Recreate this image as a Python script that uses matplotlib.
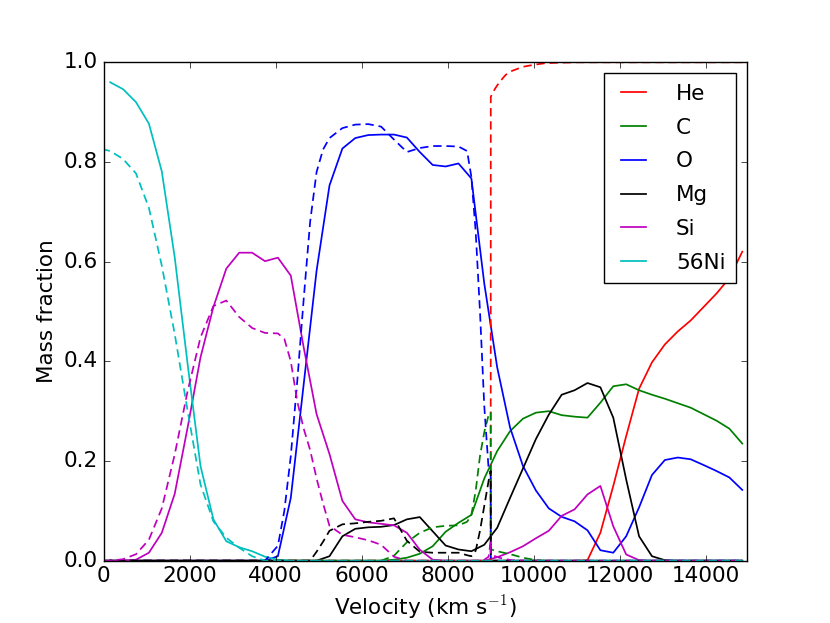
import matplotlib
matplotlib.use("Agg")
import matplotlib.pyplot as plt

plt.style.use('classic')
plt.rcParams['font.family'] = ['DejaVu Sans']
plt.rcParams['font.size'] = 15.5

# ---- solid model (velocity grid, km/s) ----
v_solid = [150, 450, 750, 1050, 1350, 1650, 1950, 2250, 2550, 2850,
           3150, 3450, 3750, 4050, 4350, 4650, 4950, 5250, 5550, 5850,
           6150, 6450, 6750, 7050, 7350, 7650, 7950, 8250, 8550, 8850,
           9150, 9450, 9750, 10050, 10350, 10650, 10950, 11250, 11550, 11850,
           12150, 12450, 12750, 13050, 13350, 13650, 13950, 14250, 14550, 14850]

he_solid = [0, 0, 0, 0, 0, 0, 0, 0, 0, 0,
            0, 0, 0, 0, 0, 0, 0, 0, 0, 0,
            0, 0, 0, 0, 0, 0, 0, 0, 0, 0,
            0, 0, 0, 0, 0, 0, 0, 0.001, 0.056, 0.150,
            0.250, 0.345, 0.398, 0.434, 0.460, 0.482, 0.509, 0.536, 0.567, 0.620]
c_solid = [0, 0, 0, 0, 0, 0, 0, 0, 0, 0,
           0, 0, 0, 0, 0, 0, 0, 0, 0, 0,
           0, 0, 0.002, 0.006, 0.014, 0.029, 0.058, 0.076, 0.092, 0.165,
           0.220, 0.260, 0.285, 0.297, 0.300, 0.292, 0.289, 0.287, 0.317, 0.350,
           0.354, 0.342, 0.333, 0.325, 0.316, 0.307, 0.294, 0.281, 0.265, 0.235]
o_solid = [0, 0, 0, 0, 0, 0, 0, 0, 0, 0,
           0, 0, 0.0, 0.009, 0.126, 0.354, 0.582, 0.753, 0.827, 0.848,
           0.854, 0.855, 0.855, 0.849, 0.820, 0.794, 0.791, 0.797, 0.767, 0.556,
           0.388, 0.267, 0.190, 0.141, 0.105, 0.088, 0.079, 0.061, 0.021, 0.016,
           0.049, 0.107, 0.172, 0.202, 0.207, 0.2035, 0.192, 0.180, 0.167, 0.142]
mg_solid = [0, 0, 0, 0, 0, 0, 0, 0, 0, 0,
            0, 0, 0, 0, 0, 0, 0, 0.009, 0.049, 0.064,
            0.067, 0.068, 0.0715, 0.083, 0.0875, 0.059, 0.0305, 0.0225, 0.019, 0.032,
            0.066, 0.126, 0.185, 0.244, 0.293, 0.333, 0.342, 0.3565, 0.348, 0.287,
            0.163, 0.049, 0.009, 0.001, 0, 0, 0, 0, 0, 0]
si_solid = [0.0, 0.0, 0.002, 0.016, 0.056, 0.134, 0.267, 0.408, 0.509, 0.586,
            0.618, 0.618, 0.601, 0.608, 0.572, 0.428, 0.294, 0.214, 0.120, 0.083,
            0.077, 0.074, 0.071, 0.056, 0.022, 0.002, 0, 0, 0, 0,
            0.007, 0.017, 0.029, 0.045, 0.060, 0.090, 0.103, 0.133, 0.150, 0.069,
            0.0125, 0.001, 0, 0, 0, 0, 0, 0, 0, 0]
ni_solid = [0.960, 0.946, 0.920, 0.877, 0.781, 0.609, 0.395, 0.190, 0.083, 0.039,
            0.027, 0.019, 0.008, 0.002, 0, 0, 0, 0, 0, 0,
            0, 0, 0, 0, 0, 0, 0, 0, 0, 0,
            0, 0, 0, 0, 0, 0, 0, 0, 0, 0,
            0, 0, 0, 0, 0, 0, 0, 0, 0, 0]

# ---- dashed model (velocity grid, km/s) ----
v_dashed = [0, 1, 150, 450, 750, 1050, 1350, 1650, 1950, 2250,
            2550, 2850, 3150, 3450, 3750, 4050, 4200, 4350, 4500, 4650,
            4800, 4950, 5100, 5250, 5550, 5850, 6150, 6450, 6750, 7050,
            7350, 7650, 7950, 8250, 8450, 8550, 8650, 8750, 8850, 8950,
            8999, 9001, 9100, 9200, 9350, 9500, 9750, 10000, 10250, 10500,
            11000, 12000, 13000, 14000, 14850]

he_dashed = [0, 0, 0, 0, 0, 0, 0, 0, 0, 0,
             0, 0, 0, 0, 0, 0, 0, 0, 0, 0,
             0, 0, 0, 0, 0, 0, 0, 0, 0, 0,
             0, 0, 0, 0, 0, 0, 0, 0, 0, 0,
             0, 0.931, 0.947, 0.960, 0.975, 0.983, 0.991, 0.995, 0.998, 0.999,
             1.0, 1.0, 1.0, 1.0, 1.0]
c_dashed = [0, 0, 0, 0, 0, 0, 0, 0, 0, 0,
            0, 0, 0, 0, 0, 0, 0, 0, 0, 0,
            0, 0, 0, 0, 0, 0, 0, 0, 0.010, 0.037,
            0.056, 0.067, 0.070, 0.071, 0.078, 0.092, 0.140, 0.210, 0.258, 0.292,
            0.298, 0.023, 0.020, 0.018, 0.015, 0.012, 0.006, 0.002, 0, 0,
            0, 0, 0, 0, 0]
o_dashed = [0, 0, 0, 0, 0, 0, 0, 0, 0, 0,
            0, 0, 0, 0, 0, 0.030, 0.100, 0.210, 0.360, 0.525,
            0.680, 0.780, 0.825, 0.848, 0.868, 0.875, 0.876, 0.871, 0.845, 0.820,
            0.828, 0.832, 0.832, 0.831, 0.822, 0.770, 0.660, 0.500, 0.310, 0.185,
            0.177, 0, 0, 0, 0, 0, 0, 0, 0, 0,
            0, 0, 0, 0, 0]
mg_dashed = [0, 0, 0, 0, 0, 0, 0, 0, 0, 0,
             0, 0, 0, 0, 0, 0, 0, 0, 0, 0,
             0, 0.018, 0.038, 0.060, 0.073, 0.075, 0.078, 0.080, 0.085, 0.040,
             0.018, 0.016, 0.016, 0.016, 0.011, 0.009, 0.020, 0.060, 0.110, 0.160,
             0.180, 0, 0, 0, 0, 0, 0, 0, 0, 0,
             0, 0, 0, 0, 0]
si_dashed = [0, 0, 0.0, 0.003, 0.013, 0.042, 0.105, 0.213, 0.340, 0.448,
             0.511, 0.522, 0.489, 0.467, 0.457, 0.456, 0.445, 0.400, 0.320, 0.265,
             0.222, 0.165, 0.115, 0.070, 0.052, 0.047, 0.041, 0.032, 0.008, 0.0,
             0, 0, 0, 0, 0, 0, 0, 0, 0.002, 0.008,
             0.040, 0.012, 0.009, 0.006, 0.003, 0.001, 0, 0, 0, 0,
             0, 0, 0, 0, 0]
ni_dashed = [0.0, 0.825, 0.822, 0.806, 0.777, 0.708, 0.592, 0.455, 0.301, 0.153,
             0.079, 0.046, 0.026, 0.009, 0.0, 0, 0, 0, 0, 0,
             0, 0, 0, 0, 0, 0, 0, 0, 0, 0,
             0, 0, 0, 0, 0, 0, 0, 0, 0, 0,
             0, 0, 0, 0, 0, 0, 0, 0, 0, 0,
             0, 0, 0, 0, 0]

labels = ['He', 'C', 'O', 'Mg', 'Si', '56Ni']
colors = ['r', 'g', 'b', 'k', 'm', 'c']
solid = [he_solid, c_solid, o_solid, mg_solid, si_solid, ni_solid]
dashed = [he_dashed, c_dashed, o_dashed, mg_dashed, si_dashed, ni_dashed]

fig = plt.figure(figsize=(8.3, 6.23), dpi=100)
ax = fig.add_subplot(111)

for lab, col, ys in zip(labels, colors, solid):
    ax.plot(v_solid, ys, color=col, lw=1.25, label=lab)
for col, ys in zip(colors, dashed):
    ax.plot(v_dashed, ys, color=col, lw=1.25, linestyle='--', dashes=(6, 3.5))

ax.set_xlim(0, 14960)
ax.set_ylim(0, 1.0)
ax.set_xticks([0, 2000, 4000, 6000, 8000, 10000, 12000, 14000])
ax.set_yticks([0.0, 0.2, 0.4, 0.6, 0.8, 1.0])
ax.set_xlabel(r'Velocity (km s$^{-1}$)')
ax.set_ylabel('Mass fraction')
ax.legend(loc='upper right', fontsize=15.5, handlelength=1.75,
          handletextpad=1.1, labelspacing=0.64, borderpad=0.5, numpoints=2)

fig.savefig('out.png', dpi=100)
